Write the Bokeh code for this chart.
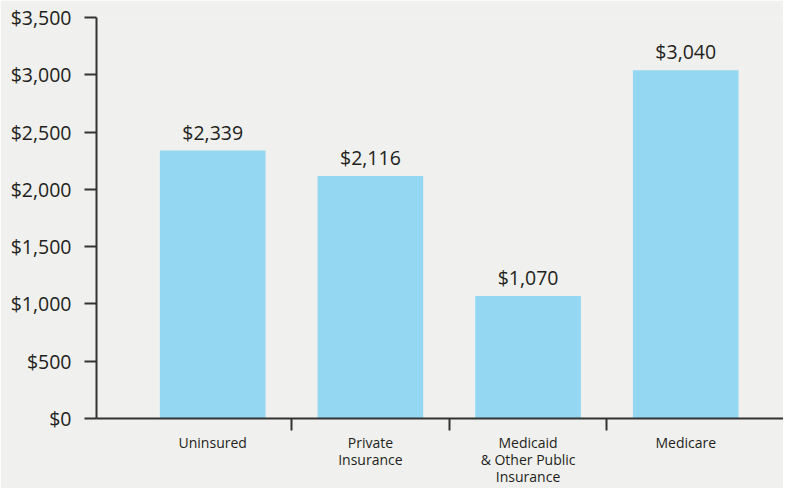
from bokeh.plotting import figure
from bokeh.models import FixedTicker, NumeralTickFormatter, Range1d, ColumnDataSource
from bokeh.embed import file_html
from bokeh.resources import INLINE
from bokeh.core.properties import value

categories = ["Uninsured", "Private\nInsurance", "Medicaid\n& Other Public\nInsurance", "Medicare"]
costs = [2339, 2116, 1070, 3040]
y_ticks = [0, 500, 1000, 1500, 2000, 2500, 3000, 3500]

BG = "#f0f0ee"
BAR = "#93d7f2"
INK = "#231f20"
AX = "#333333"
FONT = "Open Sans"

xs = list(range(len(categories)))
labels = ["${:,}".format(v) for v in costs]
src = ColumnDataSource(dict(x=xs, top=costs, label=labels))

p = figure(width=783, height=488, output_backend="svg", toolbar_location=None,
           x_range=Range1d(-0.737, 3.62), y_range=Range1d(0, 3500),
           min_border_left=96, min_border_right=0, min_border_top=17, min_border_bottom=65,
           background_fill_color=BG, border_fill_color=BG)
p.outline_line_color = None
p.grid.visible = False

p.vbar(x="x", top="top", bottom=0, width=0.67, source=src, fill_color=BAR, line_color=None)
p.text(x="x", y="top", text="label", source=src, y_offset=-5, text_align="center",
       text_baseline="bottom", text_font=value(FONT), text_font_size="19.5px", text_color=INK)

# y axis
ya = p.yaxis[0]
ya.ticker = FixedTicker(ticks=y_ticks, minor_ticks=[])
ya.formatter = NumeralTickFormatter(format="$0,0")
ya.axis_line_color = AX
ya.axis_line_width = 2
ya.major_tick_line_color = AX
ya.major_tick_line_width = 2
ya.major_tick_in = 0
ya.major_tick_out = 12
ya.major_label_standoff = 13
ya.major_label_text_font = FONT
ya.major_label_text_font_size = "19.5px"
ya.major_label_text_color = INK

# x axis
xa = p.xaxis[0]
xa.ticker = FixedTicker(ticks=xs, minor_ticks=[0.5, 1.5, 2.5])
xa.major_label_overrides = {i: c for i, c in zip(xs, categories)}
xa.axis_line_color = AX
xa.axis_line_width = 2
xa.major_tick_line_color = None
xa.major_tick_in = 0
xa.major_tick_out = 0
xa.minor_tick_line_color = AX
xa.minor_tick_line_width = 2
xa.minor_tick_in = 0
xa.minor_tick_out = 12
xa.major_label_standoff = 2
xa.major_label_text_font = FONT
xa.major_label_text_font_size = "14px"
xa.major_label_text_line_height = 0.9
xa.major_label_text_color = INK

open("out.html", "w").write(file_html(p, INLINE))
